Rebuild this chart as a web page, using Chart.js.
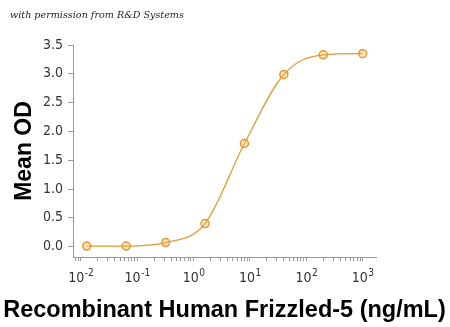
<!DOCTYPE html>
<html>
<head>
<meta charset="utf-8">
<script src="https://cdn.jsdelivr.net/npm/chart.js@4/dist/chart.umd.min.js"></script>
<style>
  html, body { margin: 0; padding: 0; background: #fff; }
  #wrap { width: 450px; height: 327px; }
</style>
</head>
<body>
<div id="wrap"><canvas id="grafico"></canvas></div>
<script>
// dados
const concentracoes = [0.0128, 0.064, 0.32, 1.6, 8, 40, 200, 1000];
const meanOD = [0.01, 0.01, 0.07, 0.40, 1.79, 2.99, 3.33, 3.35];
const xMajorTicks = [0.01, 0.1, 1, 10, 100, 1000];
const xTickExpoentes = ['-2', '-1', '0', '1', '2', '3'];
const yTicks = [0, 0.5, 1, 1.5, 2, 2.5, 3, 3.5];

const laranja = '#e39a2d';
const cinza = '#9a9a9a';
const fonteTicks = "'Liberation Sans Narrow', 'DejaVu Sans Condensed', sans-serif";
const tituloX = 'Recombinant Human Frizzled-5 (ng/mL)';

// textos desenhados à mão: nota no topo, rótulos 10^n e título do eixo x
const textosExtras = {
  id: 'textosExtras',
  afterDraw(chart) {
    const c = chart.ctx;
    const sx = chart.scales.x;
    c.save();
    c.font = "italic 9.6px 'DejaVu Serif', serif";
    c.fillStyle = '#222';
    c.textBaseline = 'middle';
    c.textAlign = 'left';
    c.fillText('with permission from R&D Systems', 10, 15);

    // rótulos com expoente
    c.fillStyle = '#333';
    c.textBaseline = 'alphabetic';
    xMajorTicks.forEach((m, i) => {
      const px = sx.getPixelForValue(m);
      c.font = '14px ' + fonteTicks;
      const w1 = c.measureText('10').width;
      c.font = '10px ' + fonteTicks;
      const w2 = c.measureText(xTickExpoentes[i]).width;
      const x0 = px - (w1 + w2) / 2;
      c.font = '14px ' + fonteTicks;
      c.fillText('10', x0, 282);
      c.font = '10px ' + fonteTicks;
      c.fillText(xTickExpoentes[i], x0 + w1 + 0.5, 276);
    });

    // título do eixo x
    c.font = "bold 23.5px 'Liberation Sans', Arial, sans-serif";
    c.fillStyle = '#000';
    c.textAlign = 'center';
    c.textBaseline = 'alphabetic';
    c.fillText(tituloX, (sx.left + sx.right) / 2, 317);
    c.restore();
  },
};

const ctx = document.getElementById('grafico').getContext('2d');
const grafico = new Chart(ctx, {
  type: 'line',
  data: {
    datasets: [
      {
        data: concentracoes.map((x, i) => ({ x: x, y: meanOD[i] })),
        borderColor: laranja,
        borderWidth: 1.3,
        cubicInterpolationMode: 'monotone',
        pointRadius: 4,
        pointBorderWidth: 1.5,
        pointBorderColor: laranja,
        pointBackgroundColor: 'rgba(240, 180, 80, 0.35)',
        fill: false,
      },
    ],
  },
  options: {
    responsive: true,
    maintainAspectRatio: false,
    animation: false,
    layout: {
      padding: { top: 45, right: 74, left: 0, bottom: 0 },
    },
    scales: {
      x: {
        type: 'logarithmic',
        min: 0.0073,
        max: 1722,
        afterBuildTicks: (scale) => {
          const t = [{ value: 0.008 }, { value: 0.009 }];
          xMajorTicks.forEach((m) => {
            for (let k = 1; k <= 9; k++) {
              const v = m * k;
              if (v >= scale.min && v <= scale.max) t.push({ value: v });
            }
          });
          scale.ticks = t;
        },
        afterFit: (scale) => {
          scale.height = 70;
        },
        ticks: {
          autoSkip: false,
          maxRotation: 0,
          callback: () => '',
        },
        grid: {
          display: true,
          drawOnChartArea: false,
          drawTicks: true,
          tickLength: 4,
          tickColor: cinza,
        },
        border: { color: cinza, width: 1 },
      },
      y: {
        type: 'linear',
        min: -0.18,
        max: 3.5,
        afterBuildTicks: (scale) => {
          scale.ticks = yTicks.map((v) => ({ value: v }));
        },
        afterFit: (scale) => {
          scale.width = 73;
        },
        ticks: {
          padding: 5,
          color: '#333',
          font: { family: fonteTicks, size: 14 },
          callback: (v) => Number(v).toFixed(1),
        },
        grid: {
          display: true,
          drawOnChartArea: false,
          tickLength: 5,
          tickColor: cinza,
        },
        border: { color: cinza, width: 1 },
        title: {
          display: true,
          text: 'Mean OD',
          color: '#000',
          font: { family: "'Liberation Sans', Arial, sans-serif", size: 23, weight: 'bold' },
          padding: { top: 11, bottom: 0 },
        },
      },
    },
    plugins: {
      legend: { display: false },
      tooltip: { enabled: false },
    },
  },
  plugins: [textosExtras],
});
</script>
</body>
</html>
